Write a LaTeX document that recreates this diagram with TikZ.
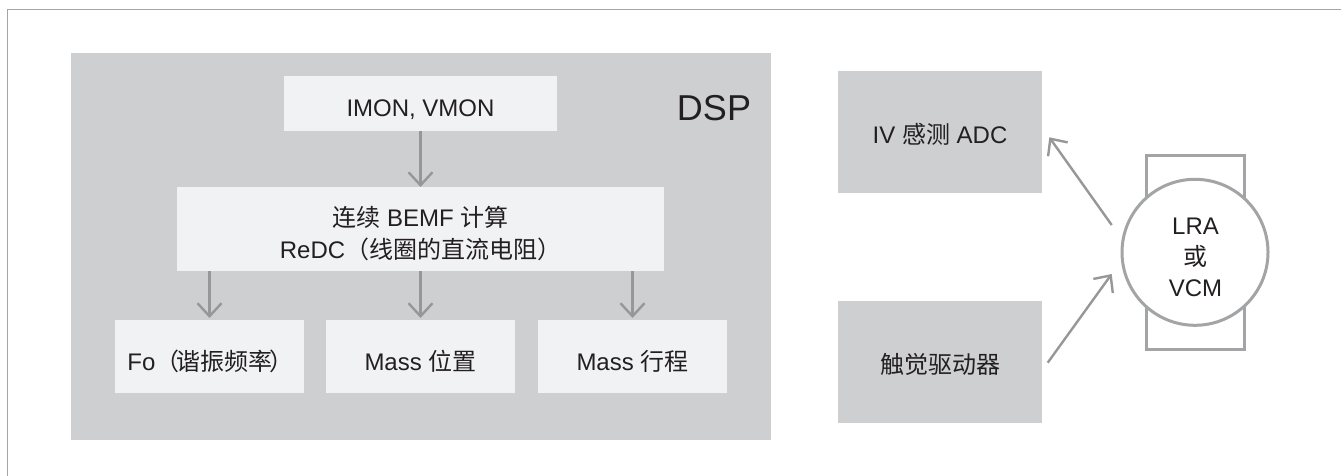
\documentclass[tikz,border=0pt]{standalone}
\usepackage{fontspec}
\setmainfont{Liberation Sans}
\newfontfamily\cjkf{Noto Sans CJK SC}
\newcommand\zht[1]{{\cjkf #1}}
\usetikzlibrary{arrows.meta}
\definecolor{dspgray}{RGB}{205,207,209}
\definecolor{innerfill}{RGB}{241,242,244}
\definecolor{arrowgray}{RGB}{150,151,153}
\definecolor{linegray}{RGB}{163,164,166}
\definecolor{framegray}{RGB}{165,165,165}
\definecolor{txt}{RGB}{35,31,32}
\begin{document}
\begin{tikzpicture}[x=1pt,y=-1pt,
  blk/.style={inner sep=0pt, outer sep=0pt, anchor=north west},
  graybox/.style={blk, fill=dspgray},
  inbox/.style={blk, fill=innerfill},
  lbl/.style={anchor=base, inner sep=0pt, text=txt, font=\fontsize{24}{28}\selectfont},
  arr/.style={draw=arrowgray, line width=2.4pt, -{Straight Barb[length=13pt,width=24pt]}},
  outline/.style={draw=linegray, line width=3pt}
]
\useasboundingbox (0,0) rectangle (1341,476);
% outer frame (top and left edges only)
\draw[framegray, line width=1.2pt] (7.5,476) -- (7.5,9.5) -- (1341,9.5);

% DSP block
\node[graybox, minimum width=700pt, minimum height=387pt] (dsp) at (70.5,52.7) {};
\node[lbl, font=\fontsize{36}{40}\selectfont] (dsplbl) at (714,120.8) {DSP};

\node[inbox, minimum width=273pt, minimum height=55pt] (imon) at (284,76) {};
\node[lbl] (imontxt) at (420.5,116.6) {IMON, VMON};

\node[inbox, minimum width=487pt, minimum height=84pt] (bemf) at (177,187) {};
\node[lbl] (bemf1) at (420.5,226.6) {\zht{连续} BEMF \zht{计算}};
\node[lbl] (bemf2) at (420.5,258.6) {ReDC\zht{（线圈的直流电阻）}};

\node[inbox, minimum width=189pt, minimum height=73pt] (fo) at (115,320) {};
\node[inbox, minimum width=189pt, minimum height=73pt] (mpos) at (326,320) {};
\node[inbox, minimum width=189pt, minimum height=73pt] (mtrav) at (538,320) {};
\node[lbl] (fotxt) at (210.5,370.3) {Fo\zht{（\kern-3pt 谐振频率\kern-3pt ）}};
\node[lbl] (mpostxt) at (420.5,370.3) {Mass \zht{位置}};
\node[lbl] (mtravtxt) at (632.5,370.3) {Mass \zht{行程}};

\draw[arr] (imon.south) -- (bemf.north);
\draw[arr] (bemf.south -| fo.north) -- ([yshift=2pt]fo.north);
\draw[arr] (bemf.south -| mpos.north) -- ([yshift=2pt]mpos.north);
\draw[arr] (bemf.south -| mtrav.north) -- ([yshift=2pt]mtrav.north);

% right side
\node[graybox, minimum width=204pt, minimum height=122pt] (adc) at (838,71) {};
\node[lbl] (adctxt) at (940,143.6) {IV \zht{感测} ADC};
\node[graybox, minimum width=204pt, minimum height=122pt] (drv) at (838,301) {};
\node[lbl] (drvtxt) at (940,373.6) {\zht{触觉驱动器}};

\node[blk, outline, fill=white, minimum width=98pt, minimum height=194pt] (body) at (1146,155.3) {};
\node[circle, outline, fill=white, inner sep=0pt, minimum size=146pt] (lra) at (1195,252.3) {};
\node[lbl] (lra1) at (1195.5,234.3) {LRA};
\node[lbl] (lra2) at (1195.5,265.6) {\zht{或}};
\node[lbl] (lra3) at (1195.5,296.9) {VCM};

\coordinate (a1s) at (1111.7,225);
\coordinate (a1e) at (1049.3,137.3);
\coordinate (a2s) at (1047.7,362.7);
\coordinate (a2e) at (1111.7,274);
\draw[arr] (a1s) -- (a1e);
\draw[arr] (a2s) -- (a2e);
\end{tikzpicture}
\end{document}
